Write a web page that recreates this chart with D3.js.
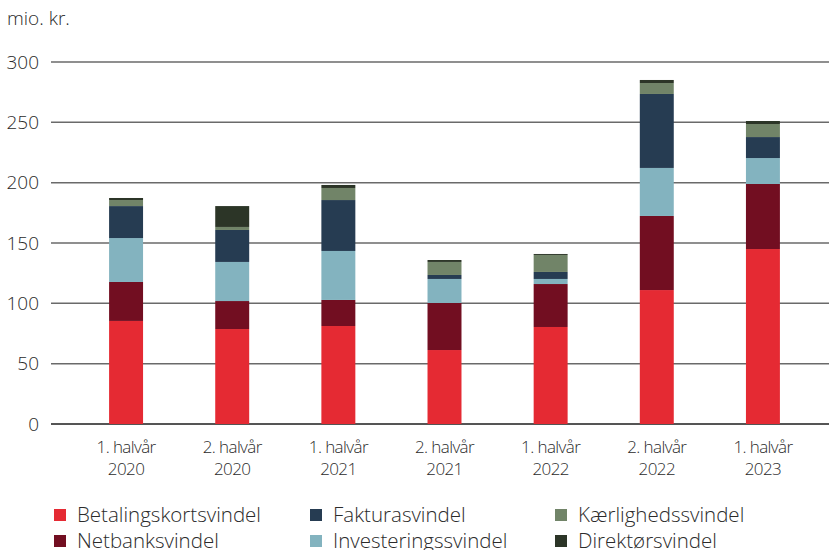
<!DOCTYPE html>
<html><head><meta charset="utf-8">
<script src="https://cdn.jsdelivr.net/npm/d3@7"></script>
<style>body{margin:0;background:#fff}svg{display:block}text{font-family:"Open Sans",sans-serif;font-weight:300;fill:#2b2b2b}</style>
</head><body><svg id="c" width="829" height="550"></svg>
<script>
const categories = [["1. halvår","2020"],["2. halvår","2020"],["1. halvår","2021"],["2. halvår","2021"],["1. halvår","2022"],["2. halvår","2022"],["1. halvår","2023"]];
const seriesNames = ["Betalingskortsvindel","Netbanksvindel","Investeringssvindel","Fakturasvindel","Kærlighedssvindel","Direktørsvindel"];
const colors = ["#e52a33","#720e21","#83b3bf","#263c52","#718468","#2c3527"];
const betaling = [85.4, 78.7, 81.2, 61.3, 80.4, 111.0, 145.0];
const netbank = [32.3, 23.2, 21.6, 39.0, 35.6, 61.4, 53.9];
const invest = [36.4, 32.4, 40.6, 19.9, 4.2, 39.8, 21.5];
const faktura = [26.5, 26.5, 42.2, 3.3, 5.8, 61.3, 17.4];
const kaerlighed = [5.0, 2.5, 10.0, 10.8, 14.1, 9.1, 10.8];
const direktoer = [1.7, 17.3, 2.5, 1.6, 0.8, 2.5, 2.5];
const yTicks = [0, 50, 100, 150, 200, 250, 300];
const seriesValues = [betaling, netbank, invest, faktura, kaerlighed, direktoer];

const svg = d3.select("#c");
const y = d3.scaleLinear().domain([0, 300]).range([424, 62]);
const x = d3.scaleBand().domain(d3.range(categories.length)).range([73, 816]).paddingInner(0.68).paddingOuter(0.34);

svg.append("g").selectAll("line").data(yTicks).join("line")
  .attr("x1", 51).attr("x2", 829)
  .attr("y1", d => y(d)).attr("y2", d => y(d))
  .attr("stroke", d => d === 0 ? "#555" : "#6a6a6a").attr("stroke-width", d => d === 0 ? 2 : 1.5);

svg.append("g").selectAll("text").data(yTicks).join("text")
  .attr("x", 39).attr("y", d => y(d)).attr("dy", "0.35em")
  .attr("text-anchor", "end").attr("font-size", 19).text(d => d);

svg.append("text").attr("x", 7).attr("y", 25).attr("font-size", 19).text("mio. kr.");

const rows = categories.map((c, i) => { const o = {i}; seriesNames.forEach((s, k) => o[s] = seriesValues[k][i]); return o; });
const stack = d3.stack().keys(seriesNames)(rows);
svg.append("g").selectAll("g").data(stack).join("g")
  .attr("fill", (d, k) => colors[k])
  .selectAll("rect").data(d => d).join("rect")
  .attr("x", d => x(d.data.i)).attr("width", x.bandwidth())
  .attr("y", d => y(d[1])).attr("height", d => y(d[0]) - y(d[1]));

const xl = svg.append("g").selectAll("text").data(categories).join("text")
  .attr("text-anchor", "middle").attr("font-size", 17).attr("letter-spacing", "-0.6")
  .attr("transform", (d, i) => `translate(${x(i) + x.bandwidth()/2},0)`);
xl.append("tspan").attr("x", 0).attr("y", 453).text(d => d[0]);
xl.append("tspan").attr("x", 0).attr("y", 475).text(d => d[1]);

const legPos = [[54,515],[54,541],[310,541],[310,515],[555,515],[555,541]];
const lg = svg.append("g").selectAll("g").data(seriesNames).join("g")
  .attr("transform", (d, k) => `translate(${legPos[k][0]},${legPos[k][1]})`);
lg.append("rect").attr("x", 0).attr("y", -6).attr("width", 12).attr("height", 12).attr("fill", (d, k) => colors[k]);
lg.append("text").attr("x", 23).attr("y", 0).attr("dy", "0.35em").attr("font-size", 20.5).text(d => d);
</script></body></html>
